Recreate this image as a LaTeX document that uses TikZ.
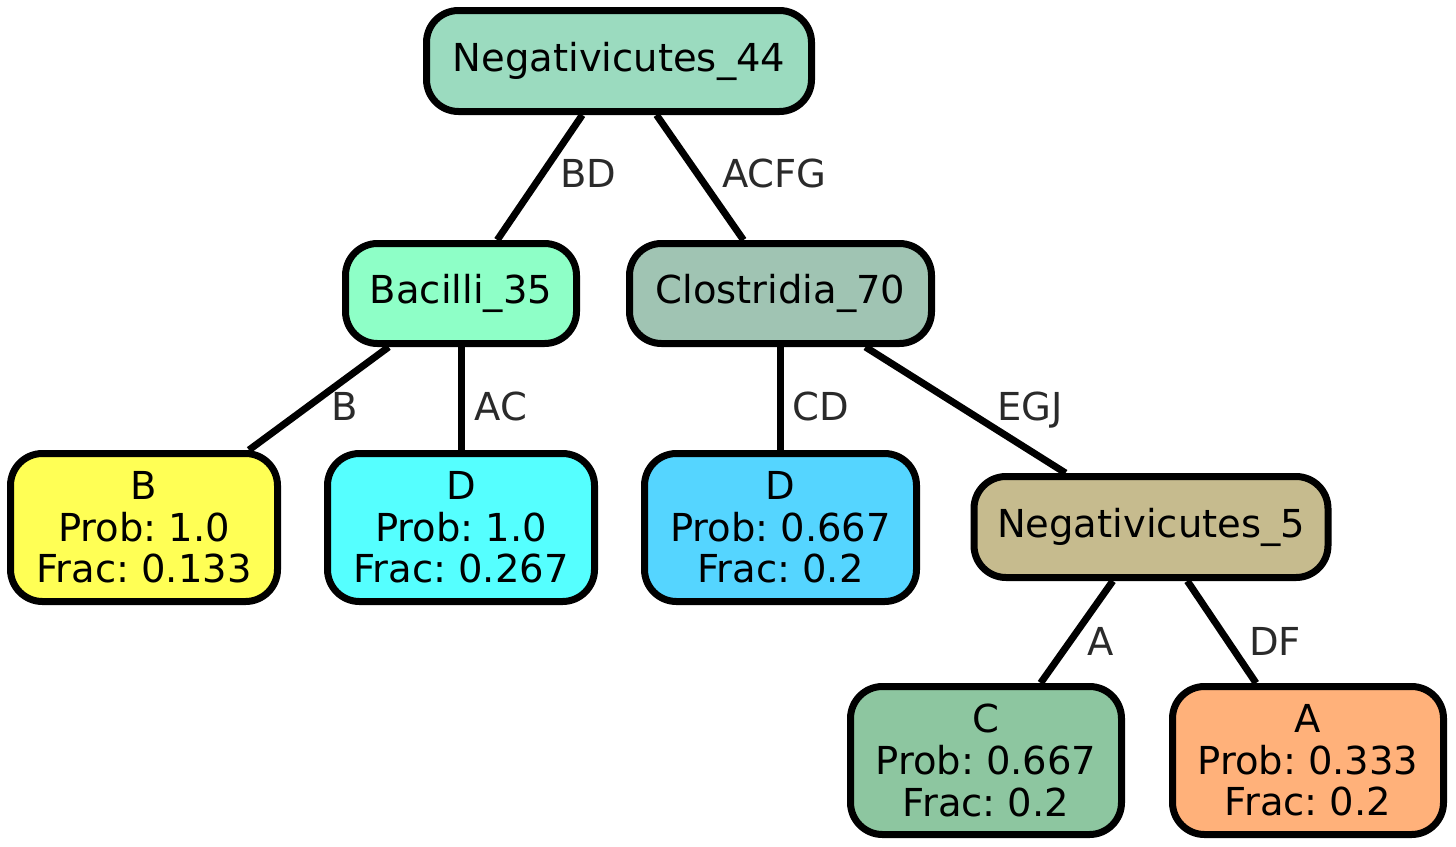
\documentclass[tikz,border=0pt]{standalone}
\usepackage{fontspec}
\setmainfont{DejaVu Sans}
\frenchspacing
\definecolor{cN44}{HTML}{9BDBBF}
\definecolor{cB35}{HTML}{8EFFC7}
\definecolor{cC70}{HTML}{A0C4B3}
\definecolor{cB}{HTML}{FFFF55}
\definecolor{cD1}{HTML}{55FFFF}
\definecolor{cD2}{HTML}{55D5FF}
\definecolor{cN5}{HTML}{C6BB8E}
\definecolor{cC}{HTML}{8DC6A0}
\definecolor{cA}{HTML}{FFB17A}
\definecolor{labgray}{HTML}{2A2A2A}
\tikzset{
  tnode/.style={draw=black, line width=7pt, rounded corners=32pt, align=center,
    inner sep=0pt, font=\fontsize{38.5pt}{41.7pt}\selectfont\frenchspacing, text=black},
  lab/.style={anchor=base, inner sep=0pt, text=labgray, font=\fontsize{38.5pt}{41.7pt}\selectfont},
  conn/.style={draw=black, line width=7pt}
}
\begin{document}
\begin{tikzpicture}[x=1pt, y=-1pt]
\useasboundingbox (0,0) rectangle (1456,846);
% nodes
\node[tnode, fill=cN44, minimum width=385pt, minimum height=101pt] (n44) at (619,61) {Negativicutes\_44};
\node[tnode, fill=cB35, minimum width=231pt, minimum height=100pt] (b35) at (461,293.5) {Bacilli\_35};
\node[tnode, fill=cC70, minimum width=302pt, minimum height=100pt] (c70) at (780.5,293.5) {Clostridia\_70};
\node[tnode, fill=cB, minimum width=267pt, minimum height=148pt] (lb) at (144,527.5) {B\\Prob: 1.0\\Frac: 0.133};
\node[tnode, fill=cD1, minimum width=267pt, minimum height=148pt] (ld1) at (461,527.5) {D\\Prob: 1.0\\Frac: 0.267};
\node[tnode, fill=cD2, minimum width=272pt, minimum height=148pt] (ld2) at (780.5,527.5) {D\\Prob: 0.667\\Frac: 0.2};
\node[tnode, fill=cN5, minimum width=354pt, minimum height=101pt] (n5) at (1151,527) {Negativicutes\_5};
\node[tnode, fill=cC, minimum width=271pt, minimum height=148pt] (lc) at (986,760.5) {C\\Prob: 0.667\\Frac: 0.2};
\node[tnode, fill=cA, minimum width=271pt, minimum height=148pt] (la) at (1308,760.5) {A\\Prob: 0.333\\Frac: 0.2};
% connectors
\draw[conn] (n44) -- (b35);
\draw[conn] (n44) -- (c70);
\draw[conn] (b35) -- (lb);
\draw[conn] (b35) -- (ld1);
\draw[conn] (c70) -- (ld2);
\draw[conn] (c70) -- (n5);
\draw[conn] (n5) -- (lc);
\draw[conn] (n5) -- (la);
% edge labels
\node[lab] (tBD) at (588.5,187) {BD};
\node[lab] (tACFG) at (774.5,187) {ACFG};
\node[lab] (tB) at (345,420) {B};
\node[lab] (tAC) at (501,420) {AC};
\node[lab] (tCD) at (821,420) {CD};
\node[lab] (tEGJ) at (1030,420) {EGJ};
\node[lab] (tA) at (1100.5,655) {A};
\node[lab] (tDF) at (1275,655) {DF};
\end{tikzpicture}
\end{document}
